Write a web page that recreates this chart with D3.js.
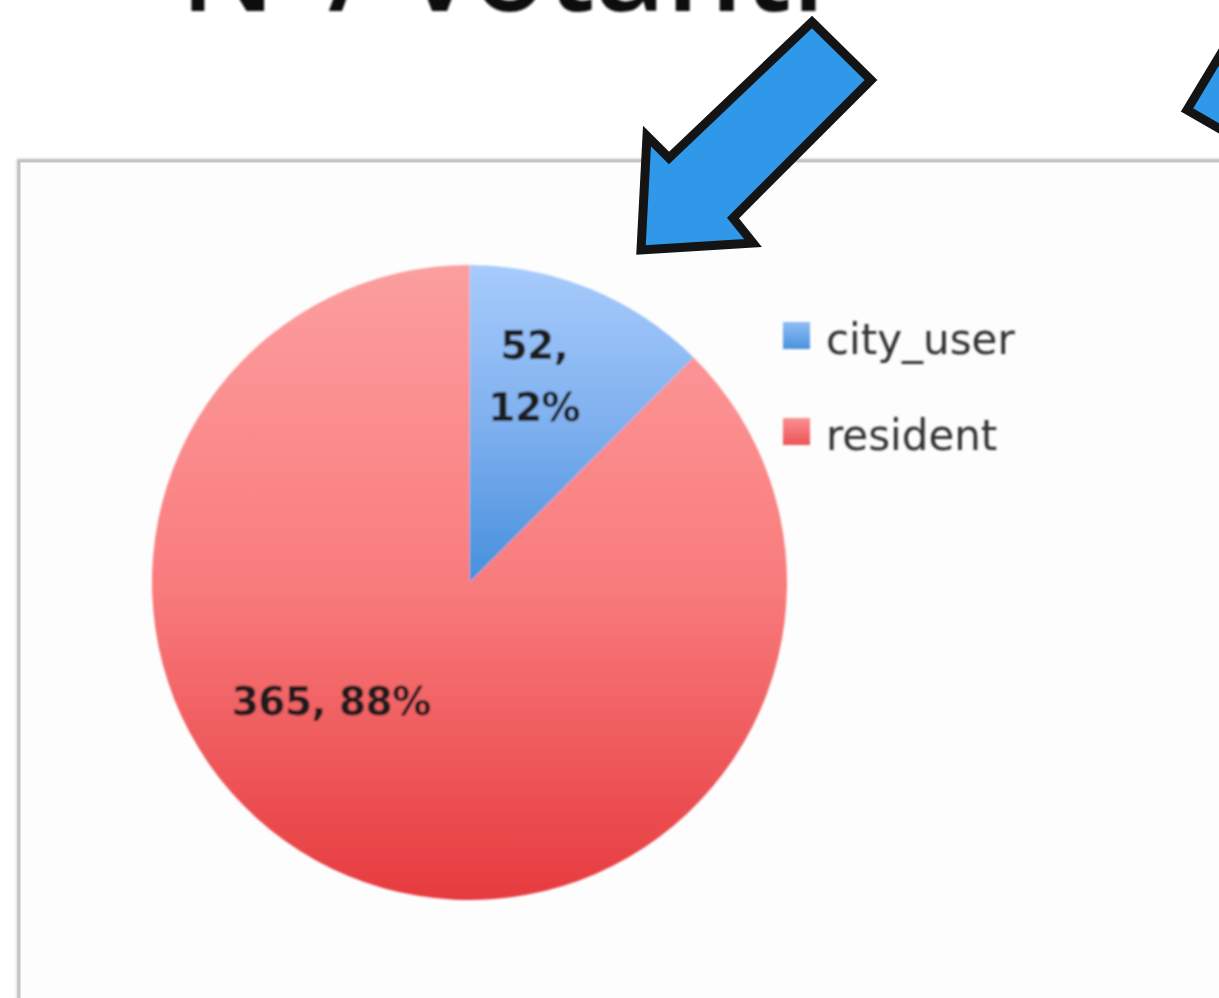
<!DOCTYPE html>
<html>
<head>
<meta charset="utf-8">
<script src="https://cdn.jsdelivr.net/npm/d3@7"></script>
<style>
  html, body { margin: 0; padding: 0; background: #ffffff; overflow: hidden; }
  svg { display: block; }
</style>
</head>
<body>
<svg id="chart" width="1219" height="998"></svg>
<script>
// ---- data ----
const categories = ["city_user", "resident"];
const values = [52, 365];
const titleText = "N°/ votanti";

// ---- styles / layout ----
const W = 1219, H = 998;
const cx = 469.5, cy = 582.5, R = 317.5;
const gradStops = {
  city_user: ["#a7cbfb", "#7fb0ef", "#4690dc"],
  resident:  ["#fc9e9f", "#f97c7d", "#e63b3f"]
};
const labelLayout = {
  city_user: { r: 216, shiftDeg: -5, twoLines: true },
  resident:  { r: 182, shiftDeg: 27, twoLines: false }
};

const svg = d3.select("#chart");
const defs = svg.append("defs");

categories.forEach(c => {
  const g = defs.append("linearGradient")
    .attr("id", "grad-" + c)
    .attr("x1", 0).attr("y1", 0).attr("x2", 0).attr("y2", 1);
  const st = gradStops[c];
  st.forEach((col, i) => g.append("stop").attr("offset", (i / (st.length - 1))).attr("stop-color", col));
});
const legGrad = {
  city_user: ["#8fbdf5", "#4a92de"],
  resident: ["#fb8f90", "#ec5558"]
};
categories.forEach(c => {
  const g = defs.append("linearGradient")
    .attr("id", "lgrad-" + c)
    .attr("x1", 0).attr("y1", 0).attr("x2", 0).attr("y2", 1);
  g.append("stop").attr("offset", 0).attr("stop-color", legGrad[c][0]);
  g.append("stop").attr("offset", 1).attr("stop-color", legGrad[c][1]);
});
const blur = defs.append("filter").attr("id", "soft").attr("x", "-5%").attr("y", "-5%").attr("width", "110%").attr("height", "110%");
blur.append("feGaussianBlur").attr("stdDeviation", 0.8);
const fshadow = defs.append("filter").attr("id", "fshadow");
fshadow.append("feGaussianBlur").attr("stdDeviation", 1.5);

// ---- title (cut off at top, as in the reference) ----
svg.append("text")
  .attr("x", 180).attr("y", 11)
  .attr("font-family", "'Open Sans', sans-serif")
  .attr("font-weight", 600)
  .attr("font-size", 122)
  .attr("fill", "#111")
  .attr("filter", "url(#soft)")
  .text(titleText);

// ---- chart frame ----
svg.append("rect")
  .attr("x", 19).attr("y", 161).attr("width", W + 40).attr("height", H)
  .attr("fill", "none").attr("stroke", "#9a9a9a").attr("stroke-width", 4)
  .attr("filter", "url(#fshadow)").attr("opacity", 0.6);
svg.append("rect")
  .attr("x", 19).attr("y", 161).attr("width", W + 40).attr("height", H)
  .attr("fill", "#fdfdfd").attr("stroke", "#c4c4c4").attr("stroke-width", 3);

// ---- pie ----
const data = categories.map((c, i) => ({ cat: c, value: values[i] }));
const total = d3.sum(values);
const pie = d3.pie().value(d => d.value).sort(null);
const arcs = pie(data);
const arc = d3.arc().innerRadius(0).outerRadius(R);

const g = svg.append("g").attr("transform", `translate(${cx},${cy})`).attr("filter", "url(#soft)");
g.selectAll("path.slice")
  .data(arcs)
  .join("path")
  .attr("class", "slice")
  .attr("d", arc)
  .attr("fill", d => `url(#grad-${d.data.cat})`);

const fmtPct = v => Math.round(v / total * 100) + "%";
arcs.forEach(d => {
  const L = labelLayout[d.data.cat];
  const a = (d.startAngle + d.endAngle) / 2 + L.shiftDeg * Math.PI / 180;
  const x = L.r * Math.sin(a), y = -L.r * Math.cos(a);
  const t = g.append("text")
    .attr("text-anchor", "middle")
    .attr("font-family", "'DejaVu Sans', sans-serif")
    .attr("font-weight", 700)
    .attr("font-size", 39)
    .attr("letter-spacing", -0.5)
    .attr("fill", "#1b1b1b");
  if (L.twoLines) {
    t.append("tspan").attr("x", x).attr("y", y - 31 + 14).text(d.data.value + ",");
    t.append("tspan").attr("x", x).attr("y", y + 31 + 14).text(fmtPct(d.data.value));
  } else {
    t.attr("x", x).attr("y", y + 14).text(d.data.value + ", " + fmtPct(d.data.value));
  }
});

// ---- legend ----
const legend = svg.append("g").attr("transform", "translate(783,322)").attr("filter", "url(#soft)");
const ly = d3.scalePoint().domain(categories).range([0, 96]);
const items = legend.selectAll("g").data(categories).join("g")
  .attr("transform", d => `translate(0,${ly(d)})`);
items.append("rect").attr("width", 27).attr("height", 27).attr("fill", d => `url(#lgrad-${d})`);
items.append("text")
  .attr("x", 43).attr("y", 32)
  .attr("font-family", "'DejaVu Sans', sans-serif")
  .attr("font-size", 42)
  .attr("fill", "#333333")
  .text(d => d);

// ---- arrows ----
const arrow1 = [[812,22],[871,80],[733,218],[753,243],[641,250],[647,136],[669,158]];
const arrow2 = [[1187,110],[1240,22],[1320,70],[1300,175]];
const lineGen = d3.line().curve(d3.curveLinearClosed);
[arrow1, arrow2].forEach(pts => {
  svg.append("path")
    .attr("d", lineGen(pts))
    .attr("fill", "#3098e9")
    .attr("stroke", "#141414")
    .attr("stroke-width", 9)
    .attr("stroke-linejoin", "miter")
    .attr("stroke-miterlimit", 10);
});
</script>
</body>
</html>
